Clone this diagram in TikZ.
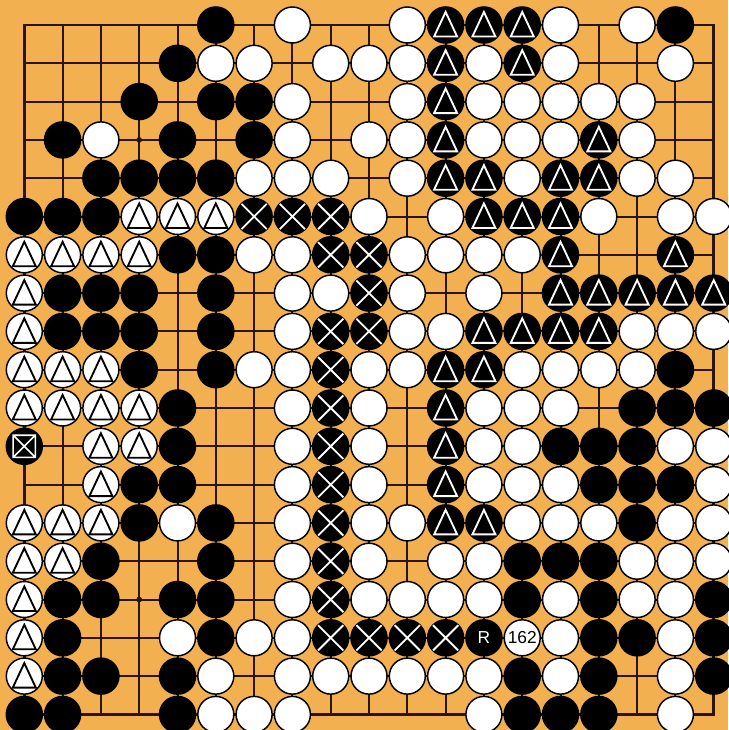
\documentclass[tikz,border=0pt]{standalone}
\usepackage{fontspec}
\setsansfont{Liberation Sans}
\begin{document}
\begin{tikzpicture}[x=28.725pt,y=-28.725pt]
\definecolor{board}{RGB}{242,176,80}
\definecolor{gridc}{RGB}{45,20,10}
\tikzset{
  gridline/.style={draw=gridc,line width=1.5pt},
  bstone/.style={fill=black},
  wstone/.style={fill=white,draw=black,line width=1.1pt},
  wmark/.style={draw=white,line width=1.4pt,line join=miter},
  bmark/.style={draw=black,line width=1.4pt,line join=miter},
  lbl/.style={font=\sffamily\fontsize{13}{13}\selectfont,inner sep=0pt}
}
\fill[board] (0.3655,0.3473) rectangle (19.373,19.407);
\useasboundingbox (0.3655,0.3473) rectangle (19.373,19.407);
% grid
\foreach \i in {1,...,19} {
  \draw[gridline] (\i,1) -- (\i,19);
  \draw[gridline] (1,\i) -- (19,\i);
}
\draw[gridline,line width=2pt] (1,1) rectangle (19,19);
\foreach \a in {4,10,16} \foreach \b in {4,10,16} \fill[gridc] (\a,\b) circle (0.075);
% black stones
\foreach \c/\r in {6/1,18/1, 5/2, 4/3,6/3,7/3, 2/4,5/4,7/4, 3/5,4/5,5/5,6/5, 1/6,2/6,3/6,
  5/7,6/7, 2/8,3/8,4/8,6/8, 2/9,3/9,4/9,6/9, 4/10,6/10,18/10, 5/11,17/11,18/11,19/11,
  5/12,15/12,16/12,17/12, 4/13,5/13,16/13,17/13,18/13, 4/14,6/14,17/14,
  3/15,6/15,14/15,15/15,16/15, 2/16,3/16,5/16,6/16,14/16,16/16,19/16,
  2/17,6/17,16/17,17/17,19/17, 2/18,3/18,5/18,14/18,16/18,19/18,
  1/19,2/19,5/19,14/19,15/19,16/19}
  \fill[bstone] (\c,\r) circle (0.49);
% black stones with white triangle
\foreach \c/\r in {12/1,13/1,14/1, 12/2,14/2, 12/3, 12/4,16/4, 12/5,13/5,15/5,16/5,
  13/6,14/6,15/6, 15/7,18/7, 15/8,16/8,17/8,18/8,19/8, 13/9,14/9,15/9,16/9,
  12/10,13/10, 12/11, 12/12, 12/13, 12/14,13/14} {
  \fill[bstone] (\c,\r) circle (0.49);
  \draw[wmark] (\c,\r-0.34) -- (\c-0.3,\r+0.3) -- (\c+0.3,\r+0.3) -- cycle;
}
% black stones with white cross
\foreach \c/\r in {7/6,8/6,9/6, 9/7,10/7, 10/8, 9/9,10/9, 9/10,9/11,9/12,9/13,9/14,9/15,9/16,
  9/17,10/17,11/17,12/17} {
  \fill[bstone] (\c,\r) circle (0.49);
  \draw[wmark] (\c-0.33,\r-0.33) -- (\c+0.33,\r+0.33) (\c-0.33,\r+0.33) -- (\c+0.33,\r-0.33);
}
% black stone with boxed cross
\fill[bstone] (1,12) circle (0.49);
\draw[wmark,line width=1.2pt] (0.71,11.71) rectangle (1.29,12.29)
  (0.71,11.71) -- (1.29,12.29) (0.71,12.29) -- (1.29,11.71);
% black stone labelled R
\fill[bstone] (13,17) circle (0.49);
\node[lbl,text=white] (labR) at (13,17) {R};
% white stones
\foreach \c/\r in {8/1,11/1,15/1,17/1, 6/2,7/2,9/2,10/2,11/2,13/2,15/2,18/2,
  8/3,11/3,13/3,14/3,15/3,16/3,17/3, 3/4,8/4,10/4,11/4,13/4,14/4,15/4,17/4,
  7/5,8/5,9/5,11/5,14/5,17/5,18/5, 10/6,12/6,16/6,18/6,19/6,
  7/7,8/7,11/7,12/7,13/7,14/7, 8/8,9/8,11/8,13/8, 8/9,11/9,12/9,17/9,18/9,19/9,
  7/10,8/10,10/10,11/10,14/10,15/10,16/10,17/10, 8/11,10/11,13/11,14/11,15/11,
  8/12,10/12,13/12,14/12,18/12,19/12, 8/13,10/13,13/13,14/13,15/13,19/13,
  5/14,8/14,10/14,11/14,14/14,15/14,16/14,18/14,19/14,
  8/15,10/15,12/15,13/15,17/15,18/15,19/15, 8/16,10/16,11/16,12/16,13/16,15/16,17/16,18/16,
  5/17,7/17,8/17,15/17,18/17, 6/18,8/18,9/18,10/18,11/18,12/18,13/18,15/18,18/18,
  6/19,7/19,8/19,13/19,18/19}
  \draw[wstone] (\c,\r) circle (0.47);
% white stones with black triangle
\foreach \c/\r in {4/6,5/6,6/6, 1/7,2/7,3/7,4/7, 1/8, 1/9, 1/10,2/10,3/10, 1/11,2/11,3/11,4/11,
  3/12,4/12, 3/13, 1/14,2/14,3/14, 1/15,2/15, 1/16, 1/17, 1/18} {
  \draw[wstone] (\c,\r) circle (0.47);
  \draw[bmark] (\c,\r-0.34) -- (\c-0.3,\r+0.3) -- (\c+0.3,\r+0.3) -- cycle;
}
% white stone labelled 162
\draw[wstone] (14,17) circle (0.47);
\node[lbl,text=black] (lab162) at (14,17) {162};
\end{tikzpicture}
\end{document}
